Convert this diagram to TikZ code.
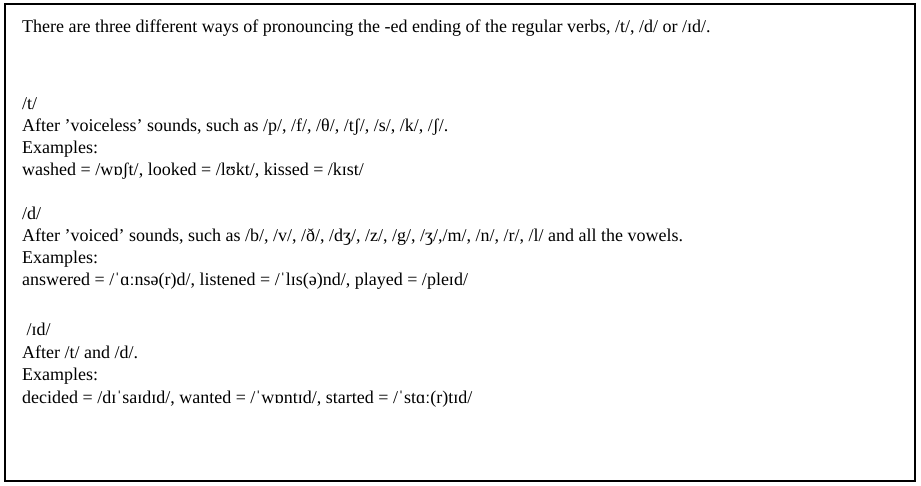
\documentclass[tikz,border=0pt]{standalone}
\usepackage{fontspec}
\setmainfont{Liberation Serif}
\usetikzlibrary{positioning}
\tikzset{
	txt/.style={anchor=base west,inner sep=0pt,font=\fontsize{18}{22}\selectfont},
}
\newcommand{\tline}[3]{\node[txt] (#1) at (22,#2) {#3};}

\begin{document}
\begin{tikzpicture}[x=1pt,y=-1pt]
	% Page size
	\useasboundingbox (0,0) rectangle (921,486);
	
	% Frame
	\draw[line width=1.5pt] (5,4) rectangle (915,481);
	
	% Heading
	\tline{intro}{33}{There are three different ways of pronouncing the -ed ending of the regular verbs, /t/, /d/ or /ɪd/.}
	
	% /t/
	\tline{t}{110}{/t/}
	\tline{trule}{132}{After 'voiceless' sounds, such as /p/, /f/, /θ/, /tʃ/, /s/, /k/, /ʃ/.}
	\tline{tex}{154}{Examples:}
	\tline{tw}{176}{washed = /wɒʃt/, looked = /lʊkt/, kissed = /kɪst/}
	
	% /d/
	\tline{d}{220}{/d/}
	\tline{drule}{242}{After 'voiced' sounds, such as /b/, /v/, /ð/, /dʒ/, /z/, /g/, /ʒ/,/m/, /n/, /r/, /l/ and all the vowels.}
	\tline{dex}{264}{Examples:}
	\tline{dw}{286}{answered = /ˈɑːnsə(r)d/, listened = /ˈlɪs(ə)nd/, played = /pleɪd/}
	
	% /id/
	\tline{id}{336}{\ /ɪd/}
	\tline{idrule}{358}{After /t/ and /d/.}
	\tline{idex}{380}{Examples:}
	\tline{idw}{403}{decided = /dɪˈsaɪdɪd/, wanted = /ˈwɒntɪd/, started = /ˈstɑː(r)tɪd/}
\end{tikzpicture}
\end{document}
